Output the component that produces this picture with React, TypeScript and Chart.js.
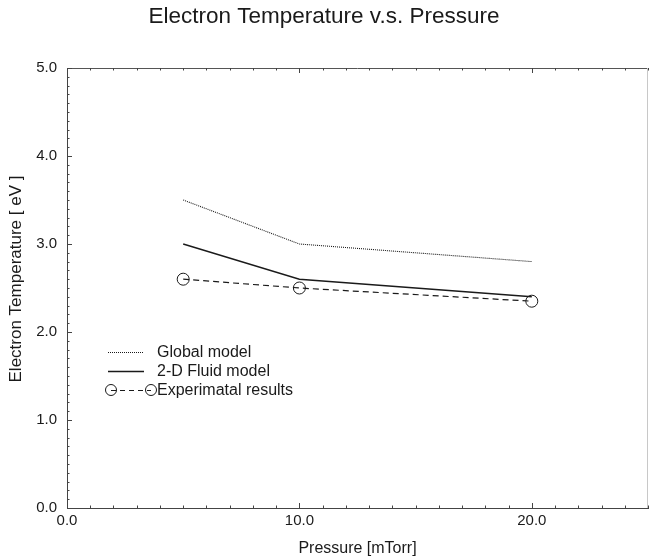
import React, { useEffect, useRef } from "react";
import { Chart, registerables } from "chart.js";
Chart.register(...registerables);

const pressure = [5, 10, 20];
const globalModel = [3.5, 3.0, 2.8];
const fluidModel = [3.0, 2.6, 2.4];
const experimental = [2.6, 2.5, 2.35];
const xTickValues = [0, 10, 20];
const yTickValues = [0, 1, 2, 3, 4, 5];
const seriesNames = ["Global model", "2-D Fluid model", "Experimatal results"];
const chartTitle = "Electron Temperature v.s. Pressure";
const xTitle = "Pressure [mTorr]";
const yTitle = "Electron Temperature [ eV ]";

const FONT = "'Liberation Sans', Arial, Helvetica, sans-serif";
const INK = "#1a1a1a";

const framePlugin = {
  id: "frameAndTicks",
  afterDatasetsDraw(chart: any) {
    const { ctx, chartArea: a, scales } = chart;
    const xs = scales.x;
    const ys = scales.y;
    ctx.save();
    ctx.lineWidth = 1;
    ctx.strokeStyle = "#555";
    ctx.beginPath();
    ctx.moveTo(a.left, a.top + 0.5);
    ctx.lineTo(a.right, a.top + 0.5);
    ctx.stroke();
    ctx.strokeStyle = "#c8c8c8";
    ctx.beginPath();
    ctx.moveTo(a.right - 0.5, a.top);
    ctx.lineTo(a.right - 0.5, a.bottom);
    ctx.stroke();
    ctx.strokeStyle = "#444";
    for (let i = 0; i <= 50; i++) {
      const y = Math.round(ys.getPixelForValue(i / 10)) + 0.5;
      const len = i % 10 === 0 ? 5 : 2.5;
      ctx.beginPath();
      ctx.moveTo(a.left, y);
      ctx.lineTo(a.left + len, y);
      ctx.stroke();
    }
    for (let i = 0; i <= 25; i++) {
      const x = Math.round(xs.getPixelForValue(i)) + 0.5;
      const len = i % 10 === 0 ? 5 : 2.5;
      ctx.beginPath();
      ctx.moveTo(x, a.bottom);
      ctx.lineTo(x, a.bottom - len);
      ctx.stroke();
      ctx.beginPath();
      ctx.moveTo(x, a.top);
      ctx.lineTo(x, a.top + len);
      ctx.stroke();
    }
    ctx.restore();
  },
};

const textPlugin = {
  id: "insideLegendAndYTitle",
  afterDraw(chart: any) {
    const { ctx } = chart;
    ctx.save();
    ctx.font = `17px ${FONT}`;
    ctx.fillStyle = INK;
    ctx.textAlign = "center";
    ctx.textBaseline = "middle";
    ctx.translate(16, 279);
    ctx.rotate(-Math.PI / 2);
    ctx.fillText(yTitle, 0, 0);
    ctx.restore();

    const x0 = 108;
    const x1 = 152;
    const tx = 157;
    const rows = [352, 371, 390];
    ctx.save();
    ctx.font = `16px ${FONT}`;
    ctx.fillStyle = INK;
    ctx.textBaseline = "middle";
    ctx.strokeStyle = INK;
    ctx.lineWidth = 1;
    ctx.setLineDash([1, 1]);
    ctx.beginPath();
    ctx.moveTo(x0, rows[0] + 0.5);
    ctx.lineTo(x1 - 8, rows[0] + 0.5);
    ctx.stroke();
    ctx.setLineDash([]);
    ctx.lineWidth = 1.3;
    ctx.beginPath();
    ctx.moveTo(x0, rows[1] + 0.5);
    ctx.lineTo(x1 - 8, rows[1] + 0.5);
    ctx.stroke();
    ctx.lineWidth = 1;
    ctx.beginPath();
    ctx.arc(x0 + 3, rows[2], 5.5, 0, Math.PI * 2);
    ctx.stroke();
    ctx.beginPath();
    ctx.arc(x1 - 1, rows[2], 5.5, 0, Math.PI * 2);
    ctx.stroke();
    ctx.setLineDash([5, 4]);
    ctx.beginPath();
    ctx.moveTo(x0 + 3, rows[2] + 0.5);
    ctx.lineTo(x1 - 1, rows[2] + 0.5);
    ctx.stroke();
    ctx.setLineDash([]);
    seriesNames.forEach((n, i) => ctx.fillText(n, tx, rows[i] + 1));
    ctx.restore();
  },
};

export default function App() {
  const ref = useRef<HTMLCanvasElement>(null);
  useEffect(() => {
    if (!ref.current) return;
    const mk = (ys: number[]) => pressure.map((p, i) => ({ x: p, y: ys[i] }));
    const chart = new Chart(ref.current, {
      type: "line",
      data: {
        datasets: [
          {
            label: seriesNames[0],
            data: mk(globalModel),
            borderColor: INK,
            borderWidth: 1.1,
            borderDash: [1, 1],
            pointRadius: 0,
            fill: false,
          },
          {
            label: seriesNames[1],
            data: mk(fluidModel),
            borderColor: INK,
            borderWidth: 1.4,
            pointRadius: 0,
            fill: false,
          },
          {
            label: seriesNames[2],
            data: mk(experimental),
            borderColor: INK,
            borderWidth: 1.2,
            borderDash: [6, 4],
            pointRadius: 6,
            pointBorderWidth: 1,
            pointBorderColor: INK,
            pointBackgroundColor: "rgba(0,0,0,0)",
            fill: false,
          },
        ],
      },
      options: {
        responsive: false,
        animation: false,
        devicePixelRatio: 1,
        layout: { autoPadding: false, padding: { left: 0, right: 1, top: 0, bottom: 0 } },
        plugins: {
          legend: { display: false },
          tooltip: { enabled: false },
          title: {
            display: true,
            text: chartTitle,
            color: INK,
            font: { family: FONT, size: 22.5, weight: "normal" },
            padding: { top: 3, bottom: 38 },
          },
        },
        scales: {
          x: {
            type: "linear",
            min: 0,
            max: 25,
            afterBuildTicks: (s: any) => {
              s.ticks = xTickValues.map((v) => ({ value: v }));
            },
            afterFit: (s: any) => {
              s.height = 50;
              s.paddingRight = 0;
              s.paddingLeft = 0;
            },
            ticks: {
              color: INK,
              font: { family: FONT, size: 15 },
              padding: 4,
              maxRotation: 0,
              callback: (v: any) => Number(v).toFixed(1),
            },
            grid: { display: false, drawTicks: false },
            border: { display: true, color: "#444", width: 1 },
            title: {
              display: true,
              text: xTitle,
              color: INK,
              font: { family: FONT, size: 16 },
              padding: { top: 2, bottom: 0 },
            },
          },
          y: {
            type: "linear",
            min: 0,
            max: 5,
            afterBuildTicks: (s: any) => {
              s.ticks = yTickValues.map((v) => ({ value: v }));
            },
            afterFit: (s: any) => {
              s.width = 67;
            },
            ticks: {
              color: INK,
              font: { family: FONT, size: 15 },
              padding: 10,
              callback: (v: any) => Number(v).toFixed(1),
            },
            grid: { display: false, drawTicks: false },
            border: { display: true, color: "#444", width: 1 },
            title: { display: false },
          },
        },
      },
      plugins: [framePlugin, textPlugin],
    } as any);
    return () => chart.destroy();
  }, []);
  return (
    <div style={{ position: "absolute", left: 0, top: 0, width: 649, height: 558, background: "#fff" }}>
      <canvas ref={ref} width={649} height={558} style={{ display: "block" }} />
    </div>
  );
}
